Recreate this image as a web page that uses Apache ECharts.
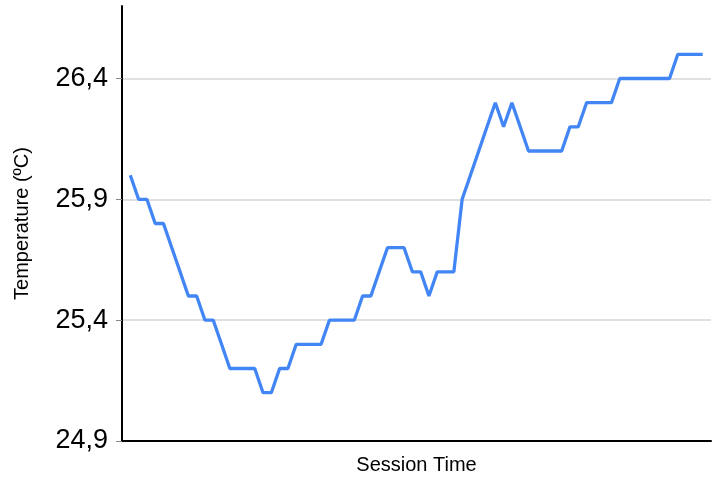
<!DOCTYPE html>
<html>
<head>
<meta charset="utf-8">
<script src="https://cdn.jsdelivr.net/npm/echarts@6/dist/echarts.min.js"></script>
<style>
html,body{margin:0;padding:0;background:#fff;}
#chart{width:718px;height:483px;}
</style>
</head>
<body>
<div id="chart"></div>
<script>
// Temperature readings over the session (ºC), one per sample
const temperature = [
  26.0, 25.9, 25.9, 25.8, 25.8, 25.7, 25.6, 25.5, 25.5, 25.4,
  25.4, 25.3, 25.2, 25.2, 25.2, 25.2, 25.1, 25.1, 25.2, 25.2,
  25.3, 25.3, 25.3, 25.3, 25.4, 25.4, 25.4, 25.4, 25.5, 25.5,
  25.6, 25.7, 25.7, 25.7, 25.6, 25.6, 25.5, 25.6, 25.6, 25.6,
  25.9, 26.0, 26.1, 26.2, 26.3, 26.2, 26.3, 26.2, 26.1, 26.1,
  26.1, 26.1, 26.1, 26.2, 26.2, 26.3, 26.3, 26.3, 26.3, 26.4,
  26.4, 26.4, 26.4, 26.4, 26.4, 26.4, 26.5, 26.5, 26.5, 26.5
];
const yTicks = [24.9, 25.4, 25.9, 26.4];
const yMin = 24.9, yMax = 26.7;
const xTitle = 'Session Time';
const yTitle = 'Temperature (ºC)';

const seriesData = temperature.map((v, i) => [i, v]);

const chart = echarts.init(document.getElementById('chart'), null, {renderer: 'canvas'});
chart.setOption({
  animation: false,
  backgroundColor: '#ffffff',
  textStyle: {fontFamily: '"Liberation Sans", Arial, sans-serif'},
  grid: {left: 122, right: 7, top: 6, bottom: 42, containLabel: false},
  xAxis: {
    type: 'value',
    min: -1,
    max: temperature.length,
    name: xTitle,
    nameLocation: 'middle',
    nameGap: 14,
    nameTextStyle: {fontSize: 20, color: '#000', fontFamily: '"Liberation Sans", Arial, sans-serif'},
    axisLine: {show: true, lineStyle: {color: '#000', width: 2}},
    axisTick: {show: false},
    axisLabel: {show: false},
    splitLine: {show: false}
  },
  yAxis: {
    type: 'value',
    min: yMin,
    max: yMax,
    interval: 0.5,
    name: yTitle,
    nameLocation: 'middle',
    nameGap: 90,
    nameTextStyle: {fontSize: 20, color: '#000', fontFamily: '"Liberation Sans", Arial, sans-serif'},
    axisLine: {show: true, onZero: false, lineStyle: {color: '#000', width: 2}},
    axisTick: {show: true, length: 6, customValues: yTicks, lineStyle: {color: '#888', width: 1}},
    axisLabel: {
      show: true,
      customValues: yTicks,
      margin: 14,
      fontSize: 27,
      color: '#000',
      fontFamily: '"Liberation Sans", Arial, sans-serif',
      formatter: v => v.toFixed(1).replace('.', ',')
    },
    splitLine: {show: true, lineStyle: {color: '#e0e0e0', width: 2}}
  },
  series: [{
    type: 'line',
    data: seriesData,
    showSymbol: false,
    symbol: 'none',
    lineStyle: {color: '#4285f4', width: 3.3},
    itemStyle: {color: '#4285f4'}
  }]
});
</script>
</body>
</html>
